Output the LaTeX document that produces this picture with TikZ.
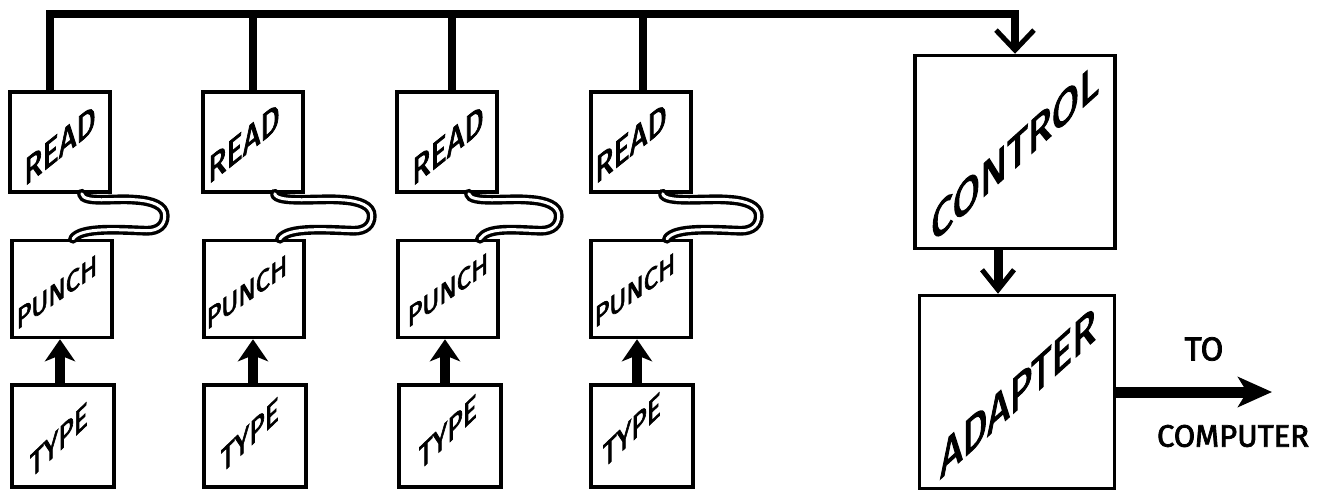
\documentclass[tikz,border=0pt]{standalone}
\usepackage{fontspec}
\setmainfont{Fira Sans}
\newfontfamily\hand[FakeBold=2.5]{Fira Sans}
\usetikzlibrary{arrows.meta,calc}

% paper tape loop from a reader down into its punch
% #1 reader node, #2 punch node, #3 reach of the loop, #4 entry shift on the punch
\newcommand\tapeloop[4]{%
  \draw[tape] ([shift={(-30,0)}]#1.south east)
    .. controls ([shift={(-28,10)}]#1.south east) and ([shift={(#3-50,4)}]#1.south east)
    .. ([shift={(#3-30,6)}]#1.south east)
    .. controls ([shift={(#3-12,7)}]#1.south east) and ([shift={(#3,12)}]#1.south east)
    .. ([shift={(#3,22)}]#1.south east)
    .. controls ([shift={(#3,31)}]#1.south east) and ([shift={(#3-6,37)}]#1.south east)
    .. ([shift={(#3-18,37)}]#1.south east)
    .. controls ([shift={(#3-45,36)}]#1.south east) and ([shift={(#4+8,-12)}]#2.north)
    .. ([shift={(#4,0)}]#2.north);}

\begin{document}
\begin{tikzpicture}[x=1pt,y=-1pt,
  unit/.style={draw, line width=3.5pt, inner sep=0pt,
               minimum width=100pt, minimum height=100pt},
  bus/.style={line width=8pt, line join=miter},
  tape/.style={line width=3.4pt, double=white, double distance=3pt, line cap=round},
  feed/.style={line width=10pt, -{Stealth[length=22pt,width=30pt,inset=6pt]}},
  drop/.style={line width=9pt, -{Straight Barb[length=20pt,width=32pt,line width=5pt]}},
  lbl/.style={inner sep=0pt, font=\hand\fontsize{#1pt}{#1pt}\selectfont},
]
\useasboundingbox (0,0) rectangle (1329,491);
\fill[white] (0,0) rectangle (1329,491);

% reader / punch / typewriter stations
\node[unit] (r1) at (60,142) {};
\node[unit] (r2) at (253,142) {};
\node[unit] (r3) at (447,142) {};
\node[unit] (r4) at (641,142) {};
\node[unit, minimum height=97pt] (p1) at (62,289) {};
\node[unit, minimum height=97pt] (p2) at (254,289) {};
\node[unit, minimum height=97pt] (p3) at (448,289) {};
\node[unit, minimum height=97pt] (p4) at (641,289) {};
\node[unit, minimum width=102pt, minimum height=102pt] (t1) at (63,436) {};
\node[unit, minimum width=102pt, minimum height=102pt] (t2) at (255,436) {};
\node[unit, minimum width=102pt, minimum height=102pt] (t3) at (450,436) {};
\node[unit, minimum width=102pt, minimum height=102pt] (t4) at (642,436) {};

% control and adapter
\node[unit, minimum width=200pt, minimum height=193pt] (ctl) at (1015,152) {};
\node[unit, minimum width=195pt, minimum height=193pt] (adp) at (1017,392) {};

% station labels
\node[lbl=38, yslant=.8, xscale=.8] (w1) at (60,145) {READ};
\node[lbl=38, yslant=.8, xscale=.8] (w2) at (244,143) {READ};
\node[lbl=38, yslant=.8, xscale=.8] (w3) at (448,145) {READ};
\node[lbl=38, yslant=.8, xscale=.8] (w4) at (631,143) {READ};
\node[lbl=29, yslant=.7, xscale=.88] (q1) at (57,292) {PUNCH};
\node[lbl=29, yslant=.7, xscale=.88] (q2) at (247,292) {PUNCH};
\node[lbl=29, yslant=.7, xscale=.88] (q3) at (448,290) {PUNCH};
\node[lbl=29, yslant=.7, xscale=.88] (q4) at (635,290) {PUNCH};
\node[lbl=34, yslant=.95, xscale=.78] (k1) at (59,440) {TYPE};
\node[lbl=34, yslant=.95, xscale=.78] (k2) at (250,435) {TYPE};
\node[lbl=34, yslant=.95, xscale=.78] (k3) at (448,432) {TYPE};
\node[lbl=34, yslant=.95, xscale=.78] (k4) at (632,430) {TYPE};
\node[lbl=48, yslant=.9, xscale=.83] (wc) at (1015,152) {CONTROL};
\node[lbl=50, yslant=.9, xscale=.78] (wa) at (1018,392) {ADAPTER};

% common bus from the readers to control
\coordinate (busL) at (0,14);
\draw[bus, -{Straight Barb[length=20pt,width=38pt,line width=5pt]}]
  ([xshift=-10pt]r1.north) -- ([xshift=-10pt]r1.north |- busL) -| (ctl.north);
\draw[bus] (r2.north) -- (r2.north |- busL);
\draw[bus] ([xshift=5pt]r3.north) -- ([xshift=5pt]r3.north |- busL);
\draw[bus] ([xshift=2pt]r4.north) -- ([xshift=2pt]r4.north |- busL);

% tape loops
\tapeloop{r1}{p1}{53}{11}
\tapeloop{r2}{p2}{67}{26}
\tapeloop{r3}{p3}{60}{32}
\tapeloop{r4}{p4}{66}{26}

% typewriter to punch
\draw[feed] ([xshift=-3pt]t1.north) -- ([xshift=-3pt]t1.north |- p1.south);
\draw[feed] ([xshift=-2pt]t2.north) -- ([xshift=-2pt]t2.north |- p2.south);
\draw[feed] ([xshift=-5pt]t3.north) -- ([xshift=-5pt]t3.north |- p3.south);
\draw[feed] ([xshift=-5pt]t4.north) -- ([xshift=-5pt]t4.north |- p4.south);

% control to adapter
\draw[drop] ([xshift=-17pt]ctl.south) -- ([xshift=-17pt]ctl.south |- adp.north);

% adapter output
\coordinate (out) at (1272,392);
\draw[line width=11pt, -{Stealth[length=34pt,width=30pt,inset=9pt]}] (adp.east) -- (out);
\node[lbl=33] (to) at (1204,349) {TO};
\node[lbl=31] (comp) at (1233,436) {COMPUTER};
\end{tikzpicture}
\end{document}
